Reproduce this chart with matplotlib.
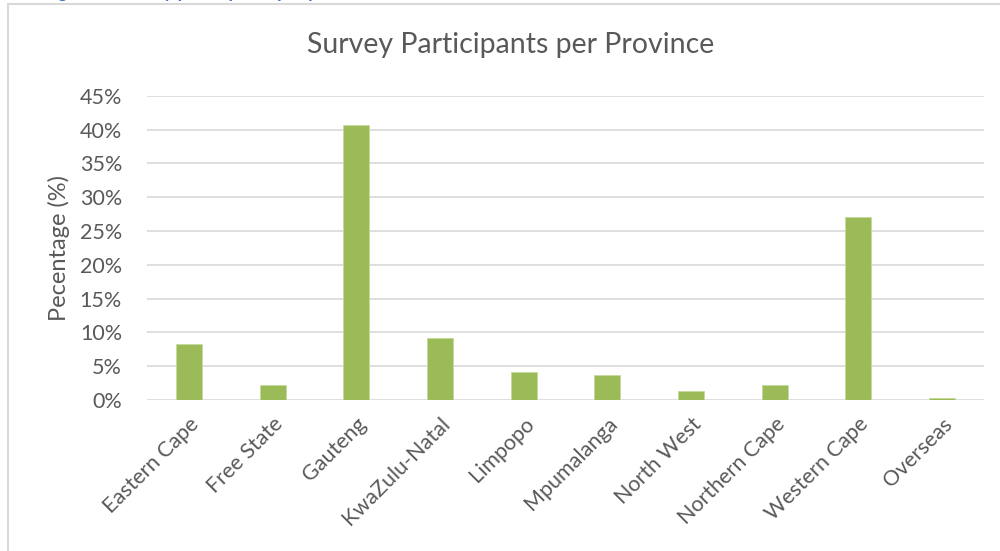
import matplotlib.pyplot as plt
from matplotlib.lines import Line2D
from matplotlib.ticker import PercentFormatter

provinces = ['Eastern Cape', 'Free State', 'Gauteng', 'KwaZulu-Natal', 'Limpopo',
             'Mpumalanga', 'North West', 'Northern Cape', 'Western Cape', 'Overseas']
share = [8.3, 2.2, 40.65, 9.2, 4.15, 3.65, 1.35, 2.2, 27.05, 0.35]
yticks = [0, 5, 10, 15, 20, 25, 30, 35, 40, 45]

plt.rcParams['font.family'] = ['Lato', 'DejaVu Sans']
grey = '#595959'

fig = plt.figure(figsize=(10, 5.51), dpi=100)
ax = fig.add_axes([0.147, 0.274, 0.837, 0.552])

x = range(len(provinces))
ax.bar(x, share, width=0.31, color='#9BBB59', edgecolor='#C5DA9B', linewidth=0.6, zorder=3)

ax.set_xlim(-0.5, len(provinces) - 0.5)
ax.set_ylim(0, 45)
ax.set_yticks(yticks)
ax.yaxis.set_major_formatter(PercentFormatter(decimals=0))
ax.grid(axis='y', color='#D9D9D9', linewidth=1.2, zorder=0)
for s in ax.spines.values():
    s.set_visible(False)
ax.tick_params(axis='both', length=0, colors=grey, labelsize=15.5)
ax.tick_params(axis='y', pad=18)
ax.set_xticks(list(x))
ax.set_xticklabels(provinces, rotation=45, ha='right', rotation_mode='anchor')
ax.tick_params(axis='x', pad=10)

ax.set_ylabel('Pecentage (%)', fontsize=17, color=grey)
ax.yaxis.set_label_coords(-0.092, 0.5)
fig.text(0.511, 0.918, 'Survey Participants per Province', ha='center', va='center',
         fontsize=20.5, color=grey)

# chart border (only left/top edges fall inside the image)
fig.add_artist(Line2D([0.008, 0.008], [0, 0.993], color='#D9D9D9', lw=1.5))
fig.add_artist(Line2D([0.008, 1.0], [0.993, 0.993], color='#D9D9D9', lw=1.5))

# caption of the document above, mostly cut off
fig.text(0.043, 1.003, 'Figure 4: Survey participants per province', ha='left', va='baseline',
         fontsize=13, fontweight='bold', color='#4472C4')

fig.savefig('out.png', dpi=100)
